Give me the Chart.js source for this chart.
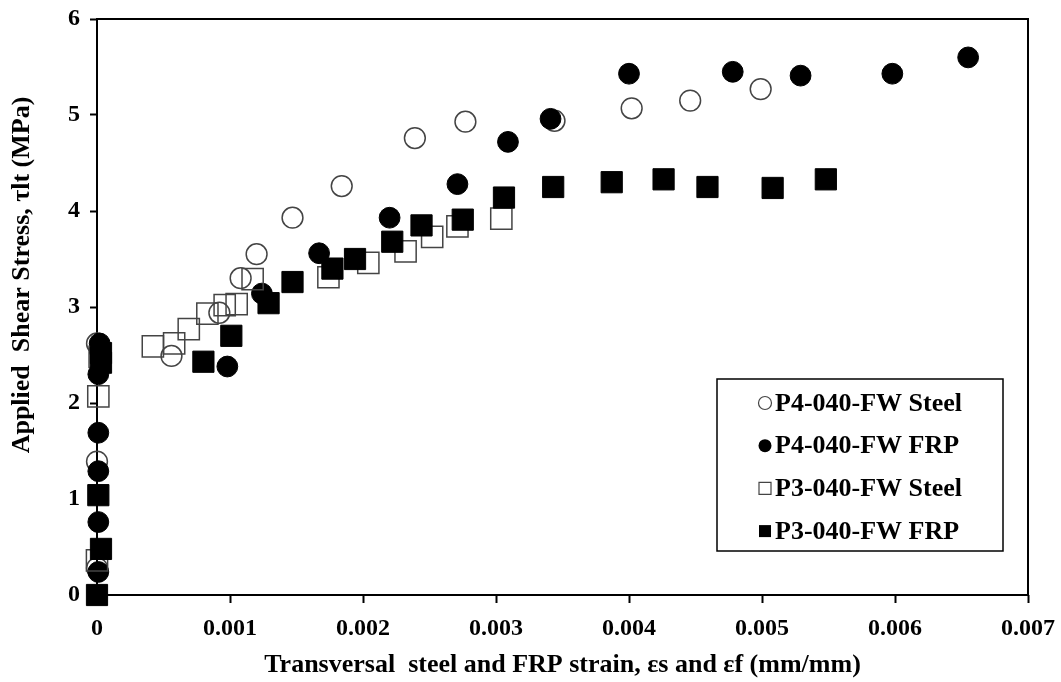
<!DOCTYPE html>
<html>
<head>
<meta charset="utf-8">
<script src="https://cdn.jsdelivr.net/npm/chart.js@4"></script>
<style>
  html, body { margin: 0; padding: 0; background: #fff; }
  #wrap { width: 1061px; height: 682px; }
</style>
</head>
<body>
<div id="wrap"><canvas id="shear-chart" width="1061" height="682"></canvas></div>
<script>
// Series (strain in mm/mm, stress in MPa)
const seriesNames = ['P4-040-FW Steel', 'P4-040-FW FRP', 'P3-040-FW Steel', 'P3-040-FW FRP'];

const p4SteelX = [0, 0, 0, 0.00056, 0.00092, 0.00108, 0.00120, 0.00147, 0.00184, 0.00239, 0.00277, 0.00344, 0.00402, 0.00446, 0.00499];
const p4SteelY = [0.28, 1.39, 2.62, 2.49, 2.94, 3.30, 3.55, 3.93, 4.26, 4.76, 4.93, 4.94, 5.07, 5.15, 5.27];

const p4FrpX = [0.00001, 0.00001, 0.00001, 0.00001, 0.00001, 0.00002, 0.00002, 0.00098, 0.00124, 0.00167, 0.00220, 0.00271, 0.00309, 0.00341, 0.00400, 0.00478, 0.00529, 0.00598, 0.00655];
const p4FrpY = [0.24, 0.76, 1.29, 1.69, 2.30, 2.55, 2.62, 2.38, 3.14, 3.56, 3.93, 4.28, 4.72, 4.96, 5.43, 5.45, 5.41, 5.43, 5.60];

const p3SteelX = [0, 0.00001, 0.00002, 0.00042, 0.00058, 0.00069, 0.00083, 0.00096, 0.00105, 0.00117, 0.00174, 0.00204, 0.00232, 0.00252, 0.00271, 0.00304];
const p3SteelY = [0.36, 2.07, 2.48, 2.59, 2.62, 2.77, 2.93, 3.02, 3.03, 3.29, 3.31, 3.46, 3.58, 3.73, 3.84, 3.92];

const p3FrpX = [0, 0.00003, 0.00001, 0.00003, 0.00003, 0.00080, 0.00101, 0.00129, 0.00147, 0.00177, 0.00194, 0.00222, 0.00244, 0.00275, 0.00306, 0.00343, 0.00387, 0.00426, 0.00459, 0.00508, 0.00548];
const p3FrpY = [0.00, 0.48, 1.04, 2.42, 2.52, 2.43, 2.70, 3.04, 3.26, 3.40, 3.50, 3.68, 3.85, 3.91, 4.14, 4.25, 4.30, 4.33, 4.25, 4.24, 4.33];

// Axis ticks
const xTickValues = [0, 0.001, 0.002, 0.003, 0.004, 0.005, 0.006, 0.007];
const xTickLabels = ['0', '0.001', '0.002', '0.003', '0.004', '0.005', '0.006', '0.007'];
const yTickValues = [0, 1, 2, 3, 4, 5, 6];
const yTickLabels = ['0', '1', '2', '3', '4', '5', '6'];

const xTitle = 'Transversal  steel and FRP strain, εs and εf (mm/mm)';
const yTitle = 'Applied  Shear Stress, τlt (MPa)';

const FONT = '"Liberation Serif", "Times New Roman", serif';

const toPoints = (xs, ys) => xs.map((x, i) => ({ x: x, y: ys[i] }));

// Box around the whole plot area
const framePlugin = {
    id: 'frame',
    beforeDatasetsDraw(chart) {
        const { ctx, chartArea: a } = chart;
        ctx.save();
        ctx.strokeStyle = '#000';
        ctx.lineWidth = 2;
        ctx.strokeRect(a.left, a.top, a.right - a.left, a.bottom - a.top);
        ctx.restore();
    }
};

// Y title sits a bit above the middle of the axis in the original
const yTitlePlugin = {
    id: 'yTitle',
    afterDraw(chart) {
        const { ctx } = chart;
        ctx.save();
        ctx.translate(22, 275);
        ctx.rotate(-Math.PI / 2);
        ctx.font = 'bold 26px ' + FONT;
        ctx.fillStyle = '#000';
        ctx.textAlign = 'center';
        ctx.textBaseline = 'middle';
        ctx.fillText(yTitle, 0, 0);
        ctx.restore();
    }
};

// Boxed legend inside the lower right of the plot
const boxLegendPlugin = {
    id: 'boxLegend',
    afterDatasetsDraw(chart) {
        const { ctx, chartArea: a } = chart;
        const boxW = 286, boxH = 172;
        const right = a.right - 25, bottom = a.bottom - 44;
        const left = right - boxW, top = bottom - boxH;

        ctx.save();
        ctx.fillStyle = '#fff';
        ctx.fillRect(left, top, boxW, boxH);
        ctx.strokeStyle = '#000';
        ctx.lineWidth = 1.5;
        ctx.strokeRect(left, top, boxW, boxH);

        ctx.font = 'bold 26px ' + FONT;
        ctx.textBaseline = 'middle';
        ctx.textAlign = 'left';

        chart.data.datasets.forEach((ds, i) => {
            const cy = top + 24 + i * 42.7;
            const cx = left + 48;
            ctx.beginPath();
            if (ds.pointStyle === 'rect') {
                ctx.rect(cx - 6, cy - 6, 12, 12);
            } else {
                ctx.arc(cx, cy, 6.5, 0, Math.PI * 2);
            }
            if (ds.filled) {
                ctx.fillStyle = '#000';
                ctx.fill();
            } else {
                ctx.strokeStyle = '#444';
                ctx.lineWidth = 1.2;
                ctx.stroke();
            }
            ctx.fillStyle = '#000';
            ctx.fillText(ds.label, cx + 10, cy + 1);
        });
        ctx.restore();
    }
};

const makeSet = (label, points, style, filled, order) => ({
    label: label,
    data: points,
    pointStyle: style,
    filled: filled,
    pointRadius: style === 'rect' ? 15 : 10.4,
    pointHoverRadius: style === 'rect' ? 15 : 10.4,
    backgroundColor: filled ? '#000' : 'rgba(0,0,0,0)',
    borderColor: filled ? '#000' : '#444',
    borderWidth: filled ? 1 : 1.5,
    showLine: false,
    clip: false,
    order: order
});

const ctx = document.getElementById('shear-chart').getContext('2d');

new Chart(ctx, {
    type: 'scatter',
    data: {
        datasets: [
            makeSet(seriesNames[0], toPoints(p4SteelX, p4SteelY), 'circle', false, 4),
            makeSet(seriesNames[1], toPoints(p4FrpX, p4FrpY), 'circle', true, 3),
            makeSet(seriesNames[2], toPoints(p3SteelX, p3SteelY), 'rect', false, 2),
            makeSet(seriesNames[3], toPoints(p3FrpX, p3FrpY), 'rect', true, 1)
        ]
    },
    options: {
        responsive: false,
        devicePixelRatio: 1,
        animation: false,
        layout: { padding: { top: 19, right: 33, left: 0, bottom: 0 } },
        plugins: {
            legend: { display: false },
            tooltip: { enabled: false }
        },
        scales: {
            x: {
                type: 'linear',
                min: 0,
                max: 0.007,
                afterBuildTicks: (scale) => { scale.ticks = xTickValues.map(v => ({ value: v })); },
                afterFit: (scale) => {
                    scale.height = 87;
                    scale.paddingLeft = 0;
                    scale.paddingRight = 0;
                },
                border: { display: false },
                grid: {
                    drawOnChartArea: false,
                    drawTicks: true,
                    tickLength: 8,
                    tickWidth: 2,
                    tickColor: '#000'
                },
                ticks: {
                    padding: 11,
                    color: '#000',
                    font: { family: FONT, size: 24, weight: 'bold' },
                    maxRotation: 0,
                    callback: (v, i) => xTickLabels[i]
                },
                title: {
                    display: true,
                    text: xTitle,
                    color: '#000',
                    font: { family: FONT, size: 26, weight: 'bold' },
                    padding: { top: 0, bottom: 1 }
                }
            },
            y: {
                type: 'linear',
                min: 0,
                max: 6,
                afterBuildTicks: (scale) => { scale.ticks = yTickValues.map(v => ({ value: v })); },
                afterFit: (scale) => {
                    scale.width = 97;
                    scale.paddingTop = 0;
                    scale.paddingBottom = 0;
                },
                border: { display: false },
                grid: {
                    drawOnChartArea: false,
                    drawTicks: true,
                    tickLength: 7,
                    tickWidth: 2,
                    tickColor: '#000'
                },
                ticks: {
                    padding: 10,
                    color: '#000',
                    font: { family: FONT, size: 24, weight: 'bold' },
                    callback: (v, i) => yTickLabels[i]
                },
                title: { display: false }
            }
        }
    },
    plugins: [framePlugin, boxLegendPlugin, yTitlePlugin]
});
</script>
</body>
</html>
